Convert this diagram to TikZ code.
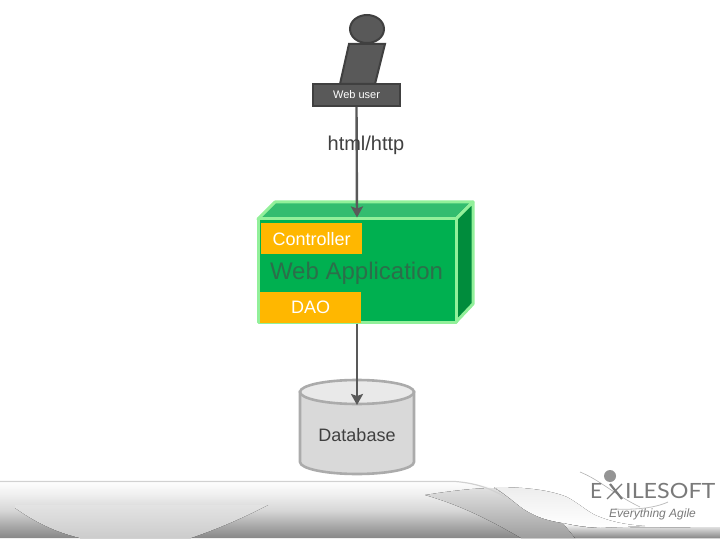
\documentclass[tikz,border=0pt]{standalone}
\usepackage{fontspec}
\setmainfont{Liberation Sans}
\newfontfamily\logofont{Lato}
\usetikzlibrary{arrows.meta}
\definecolor{darkg}{HTML}{595959}
\definecolor{edgeg}{HTML}{404040}
\definecolor{wire}{HTML}{595959}
\definecolor{appgreen}{HTML}{00B050}
\definecolor{apptop}{HTML}{33BD6F}
\definecolor{appside}{HTML}{008C3C}
\definecolor{appedge}{HTML}{92F09A}
\definecolor{applabelc}{HTML}{2C6E4A}
\definecolor{amber}{HTML}{FFB700}
\definecolor{dbfill}{HTML}{D9D9D9}
\definecolor{dbtop}{HTML}{E9E9E9}
\definecolor{dbedge}{HTML}{ABABAB}
\definecolor{logog}{HTML}{7A7A7A}
\pgfdeclareverticalshading{footg}{100bp}{color(0bp)=(black!47); color(25bp)=(black!47); color(36bp)=(black!34); color(50bp)=(black!16); color(65bp)=(black!6); color(75bp)=(black!1); color(100bp)=(black!1)}
\tikzset{
  px/.style={font=\fontsize{#1}{#1}\selectfont},
  userpart/.style={fill=darkg,draw=edgeg,line width=2pt},
  wirearrow/.style={draw=wire,line width=2.4pt,-{Stealth[length=11pt,width=12pt,inset=2pt]}},
  appface/.style={draw=appedge,line width=3pt,line join=round},
  amberbox/.style={fill=amber,text=white,inner sep=0pt,anchor=north west},
  dbshape/.style={draw=dbedge,line width=2.6pt},
}
\begin{document}
\begin{tikzpicture}[x=1pt,y=-1pt]
\useasboundingbox (0,0) rectangle (720,540);
% footer
\shade[shading=footg] (0,483) -- (460,483)
  .. controls (478,484) and (488,486) .. (498,490)
  .. controls (508,496) and (516,504) .. (525,510)
  .. controls (538,518) and (550,521) .. (563,523) -- (575,538) -- (0,538) -- cycle;
\fill[top color=black!11,bottom color=black!20] (15,505) -- (15,508) .. controls (35,522) and (55,532) .. (80,538)
  -- (191,538) .. controls (220,528) and (245,517) .. (268,505) -- cycle;
\fill[top color=black!12,bottom color=black!38] (425,495) .. controls (450,491) and (475,488) .. (494,488)
  .. controls (508,496) and (516,504) .. (525,510) .. controls (538,518) and (550,521) .. (563,523) -- (575,538) -- (521,538)
  .. controls (490,520) and (460,505) .. (425,495) -- cycle;
\fill[top color=black!7,bottom color=white] (494,487) .. controls (525,487) and (550,490) .. (567,497)
  .. controls (580,504) and (590,514) .. (600,517) .. controls (615,523) and (630,525) .. (645,526)
  -- (600,528) .. controls (585,527) and (572,525) .. (563,523) .. controls (550,521) and (538,518) .. (525,510)
  .. controls (516,504) and (508,496) .. (494,487) -- cycle;
\fill[top color=white,bottom color=black!47] (563,523) .. controls (575,526) and (590,528) .. (600,528) -- (720,527) -- (720,538) -- (575,538) -- cycle;
\draw[black!18,line width=1.2pt] (0,481.5) -- (455,481.5) .. controls (475,483) and (490,488) .. (505,497);
% logo
\draw[black!30,line width=0.6pt] (580,472) .. controls (600,480) and (615,495) .. (640,507);
\draw[black!25,line width=0.8pt] (615,509) .. controls (635,510) and (655,508) .. (668,502);
\fill[black!42] (610,476) circle (6pt);
\draw[logog,line width=2.2pt] (610,484) -- (622,499);
\draw[logog,line width=1.1pt] (622,484) -- (607,499);
\node[px=21,text=logog,inner sep=0pt,anchor=west] (logoe) at (590,491) {\logofont E};
\node[px=21,text=logog,inner sep=0pt,anchor=west,xscale=1.11] (logos) at (625,491) {\logofont ILESOFT};
\node[px=12,text=logog,inner sep=0pt,anchor=west] (logot) at (609,514) {\itshape Everything Agile};
% user
\draw[userpart] (349,44) -- (385,44) -- (375,84) -- (340,84) -- cycle;
\draw[userpart] (367,29) ellipse (17pt and 14pt);
\node[userpart,px=11,text=white,minimum width=87pt,minimum height=22pt,inner sep=0pt] (user) at (356.5,95) {Web user};
% database
\draw[dbshape,fill=dbfill] (300,392) -- (300,462) arc[start angle=180,end angle=360,x radius=57pt,y radius=12pt] -- (414,392) -- cycle;
\draw[dbshape,fill=dbtop] (357,392) ellipse (57pt and 12pt);
\node[px=18,text=edgeg,inner sep=0pt] (db) at (357,435) {Database};
\coordinate (dbin) at (357,405);
% web application
\draw[appface,fill=apptop] (258,219) -- (275,202) -- (473,202) -- (456,219) -- cycle;
\draw[appface,fill=appside] (456,219) -- (473,202) -- (473,304) -- (456,322) -- cycle;
\node[appface,fill=appgreen,minimum width=198pt,minimum height=103pt,inner sep=0pt] (app) at (357,270.5) {};
\node[amberbox,minimum width=101pt,minimum height=31pt] (ctrl) at (261,223) {\fontsize{18}{18}\selectfont\raisebox{-1pt}{Controller}};
\node[amberbox,minimum width=101pt,minimum height=31pt] (dao) at (260,292) {\fontsize{18}{18}\selectfont DAO};
\node[px=24,text=applabelc,inner sep=0pt] (applabel) at (356.5,273.5) {Web Application};
% connectors
\draw[wirearrow] (user.south) -- (app.north);
\draw[wirearrow] (app.south) -- (dbin);
\node[px=20,text=edgeg,inner sep=0pt] (proto) at (366,145) {html/http};
\end{tikzpicture}
\end{document}
